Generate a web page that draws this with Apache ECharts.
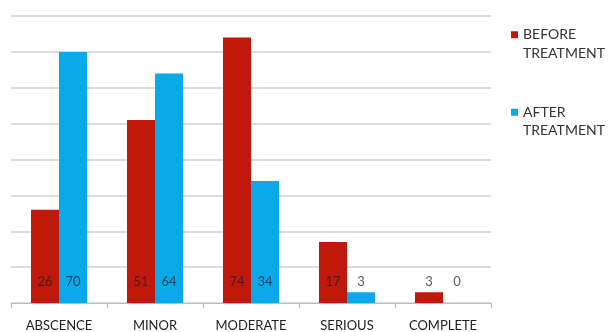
<!DOCTYPE html>
<html>
<head>
<meta charset="utf-8">
<script src="https://cdn.jsdelivr.net/npm/echarts@6/dist/echarts.min.js"></script>
<style>
  html, body { margin: 0; padding: 0; background: #fff; }
  #chart { width: 611px; height: 332px; }
</style>
</head>
<body>
<div id="chart"></div>
<script>
var categories = ['ABSCENCE', 'MINOR', 'MODERATE', 'SERIOUS', 'COMPLETE'];
var beforeValues = [26, 51, 74, 17, 3];
var afterValues = [70, 64, 34, 3, 0];
var seriesNames = ['BEFORE\nTREATMENT', 'AFTER\nTREATMENT'];

var chart = echarts.init(document.getElementById('chart'));

var barLabel = {
    show: true,
    position: 'insideBottom',
    distance: 15,
    fontFamily: 'Lato',
    fontSize: 13,
    color: 'rgba(30,30,40,0.75)'
};

option = {
    backgroundColor: '#fff',
    animation: false,
    grid: {
        left: 11,
        right: 120,
        top: 16,
        bottom: 29
    },
    legend: {
        orient: 'vertical',
        left: 506,
        top: 2,
        itemWidth: 7,
        itemHeight: 7,
        itemGap: 22,
        icon: 'rect',
        data: seriesNames,
        // blank first line so the square sits beside the first line of text
        formatter: function (name) {
            return ' \n' + name;
        },
        textStyle: {
            fontFamily: 'Lato',
            fontSize: 14,
            color: '#333',
            lineHeight: 18.5
        }
    },
    xAxis: {
        type: 'category',
        data: categories,
        axisLine: { lineStyle: { color: '#bbb', width: 1 } },
        axisTick: { show: true, length: 5, lineStyle: { color: '#bbb' } },
        axisLabel: {
            fontFamily: 'Lato',
            fontSize: 13,
            color: '#222',
            margin: 16
        }
    },
    yAxis: {
        type: 'value',
        min: 0,
        max: 80,
        interval: 10,
        axisLabel: { show: false },
        axisLine: { show: false },
        axisTick: { show: false },
        splitLine: { lineStyle: { color: '#d0d0d0', width: 1.5 } }
    },
    series: [
        {
            name: seriesNames[0],
            type: 'bar',
            data: beforeValues,
            barWidth: 28,
            barGap: '0%',
            itemStyle: { color: '#c1180c' },
            label: barLabel
        },
        {
            name: seriesNames[1],
            type: 'bar',
            data: afterValues,
            barWidth: 28,
            barGap: '0%',
            itemStyle: { color: '#0aaaea' },
            label: barLabel
        }
    ]
};
chart.setOption(option);
</script>
</body>
</html>
